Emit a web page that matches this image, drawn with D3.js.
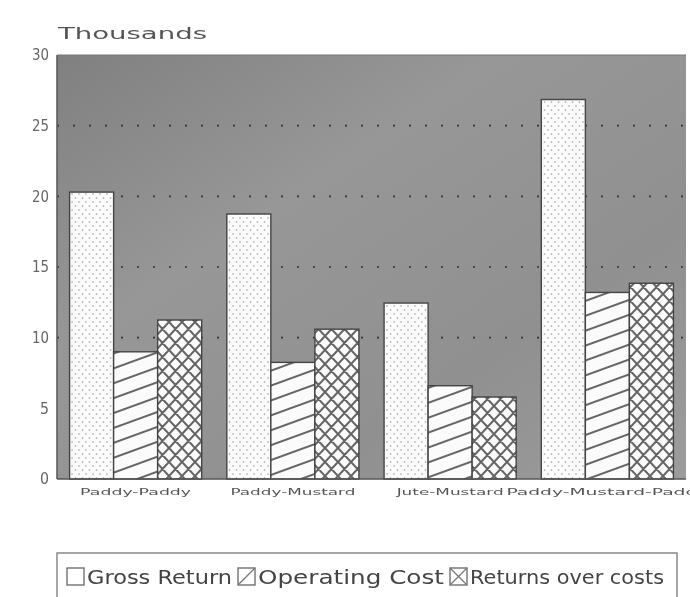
<!DOCTYPE html>
<html><head><meta charset="utf-8">
<script src="https://cdn.jsdelivr.net/npm/d3@7"></script>
<style>
html,body{margin:0;padding:0;background:#fff;}
svg{display:block;filter:blur(0.5px);}
</style></head>
<body>
<script>
const categories = ["Paddy-Paddy","Paddy-Mustard","Jute-Mustard","Paddy-Mustard-Paddy"];
const seriesNames = ["Gross Return","Operating Cost","Returns over costs"];
const grossReturn = [20.3, 18.75, 12.45, 26.85];
const operatingCost = [9.0, 8.25, 6.6, 13.2];
const returnsOverCosts = [11.25, 10.6, 5.8, 13.85];
const yTicks = [0,5,10,15,20,25,30];
const gridTicks = [10,15,20,25];
const unitLabel = "Thousands";

const W = 690, H = 597;
const svg = d3.select("body").append("svg").attr("width",W).attr("height",H);
const defs = svg.append("defs");

// background gradient
const grad = defs.append("linearGradient").attr("id","bg").attr("x1","0").attr("y1","0").attr("x2","1").attr("y2","1");
grad.append("stop").attr("offset","0").attr("stop-color","#808080");
grad.append("stop").attr("offset","0.35").attr("stop-color","#979797");
grad.append("stop").attr("offset","0.7").attr("stop-color","#909090");
grad.append("stop").attr("offset","1").attr("stop-color","#9c9c9c");

// patterns
const pDots = defs.append("pattern").attr("id","pDots").attr("patternUnits","userSpaceOnUse").attr("width",7).attr("height",8);
pDots.append("rect").attr("width",7).attr("height",8).attr("fill","#fbfbfb");
pDots.append("circle").attr("cx",2).attr("cy",2).attr("r",0.8).attr("fill","#999");
pDots.append("circle").attr("cx",5.5).attr("cy",6).attr("r",0.8).attr("fill","#999");

const pHatch = defs.append("pattern").attr("id","pHatch").attr("patternUnits","userSpaceOnUse").attr("width",10).attr("height",14).attr("patternTransform","rotate(-20)");
pHatch.append("rect").attr("width",10).attr("height",14).attr("fill","#fbfbfb");
pHatch.append("line").attr("x1",0).attr("y1",7).attr("x2",10).attr("y2",7).attr("stroke","#555").attr("stroke-width",1.8);

const pCross = defs.append("pattern").attr("id","pCross").attr("patternUnits","userSpaceOnUse").attr("width",13).attr("height",14);
pCross.append("rect").attr("width",13).attr("height",14).attr("fill","#fbfbfb");
pCross.append("path").attr("d","M0,0L13,14M13,0L0,14M-1,13L1,15M12,-1L14,1M-1,1L1,-1M12,15L14,13").attr("stroke","#666").attr("stroke-width",2.1);

const fills = ["url(#pDots)","url(#pHatch)","url(#pCross)"];
const seriesData = [grossReturn, operatingCost, returnsOverCosts];

const x0 = d3.scaleBand().domain(categories).range([57,686]).paddingInner(0.16).paddingOuter(0.08);
const x1 = d3.scaleBand().domain(seriesNames).range([0,x0.bandwidth()]);
const y = d3.scaleLinear().domain([0,30]).range([479,55]);

// plot background
svg.append("rect").attr("x",57).attr("y",y(30)).attr("width",629).attr("height",y(0)-y(30)).attr("fill","url(#bg)");

// gridlines
svg.append("g").selectAll("line").data(gridTicks).join("line")
  .attr("x1",57).attr("x2",686).attr("y1",d=>y(d)).attr("y2",d=>y(d))
  .attr("stroke","#333").attr("stroke-width",1.6).attr("stroke-dasharray","2,14");

// bars
const g = svg.append("g");
categories.forEach((c,i)=>{
  seriesNames.forEach((s,j)=>{
    const v = seriesData[j][i];
    g.append("rect")
      .attr("x",x0(c)+x1(s)).attr("y",y(v))
      .attr("width",x1.bandwidth()).attr("height",y(0)-y(v))
      .attr("fill",fills[j]).attr("stroke","#444").attr("stroke-width",1.4);
  });
});

// frame
svg.append("line").attr("x1",57).attr("x2",57).attr("y1",y(30)).attr("y2",y(0)).attr("stroke","#555").attr("stroke-width",1.5);
svg.append("line").attr("x1",57).attr("x2",686).attr("y1",y(0)).attr("y2",y(0)).attr("stroke","#555").attr("stroke-width",1.5);
svg.append("line").attr("x1",57).attr("x2",686).attr("y1",y(30)).attr("y2",y(30)).attr("stroke","#777").attr("stroke-width",1);

// y axis
const yAxis = d3.axisLeft(y).tickValues(yTicks).tickSize(0).tickPadding(8);
const ya = svg.append("g").attr("transform","translate(57,0)").call(yAxis);
ya.select(".domain").remove();
ya.selectAll("text").attr("font-family","DejaVu Sans").attr("font-size",15).attr("fill","#666")
  .attr("textLength",d=>d>=10?17:9).attr("lengthAdjust","spacingAndGlyphs");

// unit label
svg.append("text").attr("x",58).attr("y",39).text(unitLabel)
  .attr("font-family","DejaVu Sans").attr("font-size",15).attr("fill","#555")
  .attr("textLength",149).attr("lengthAdjust","spacingAndGlyphs");

// x axis labels
const xLabelWidths = [111,125,107,202];
const xAxis = d3.axisBottom(x0).tickSize(0).tickPadding(10);
const xa = svg.append("g").attr("transform",`translate(0,${y(0)})`).call(xAxis);
xa.select(".domain").remove();
xa.selectAll("text").attr("font-family","DejaVu Sans").attr("font-size",9).attr("fill","#555")
  .attr("textLength",(d,i)=>xLabelWidths[i]).attr("lengthAdjust","spacingAndGlyphs");

// legend
const lg = svg.append("g");
lg.append("rect").attr("x",57).attr("y",553).attr("width",620).attr("height",60).attr("fill","none").attr("stroke","#888").attr("stroke-width",1.5);
const legX = [67,238,450];
const legW = [145,186,194];
const legIcons = ["","M0,17L17,0","M0,0L17,17M17,0L0,17"];
seriesNames.forEach((s,j)=>{
  lg.append("rect").attr("x",legX[j]).attr("y",568).attr("width",17).attr("height",17).attr("fill","#fff").attr("stroke","#666").attr("stroke-width",1.3);
  if(legIcons[j]) lg.append("path").attr("transform",`translate(${legX[j]},568)`).attr("d",legIcons[j]).attr("stroke","#777").attr("stroke-width",1.2).attr("fill","none");
  lg.append("text").attr("x",legX[j]+20).attr("y",584).text(s)
    .attr("font-family","DejaVu Sans").attr("font-size",19).attr("fill","#444")
    .attr("textLength",legW[j]).attr("lengthAdjust","spacingAndGlyphs");
});
</script>
</body></html>
